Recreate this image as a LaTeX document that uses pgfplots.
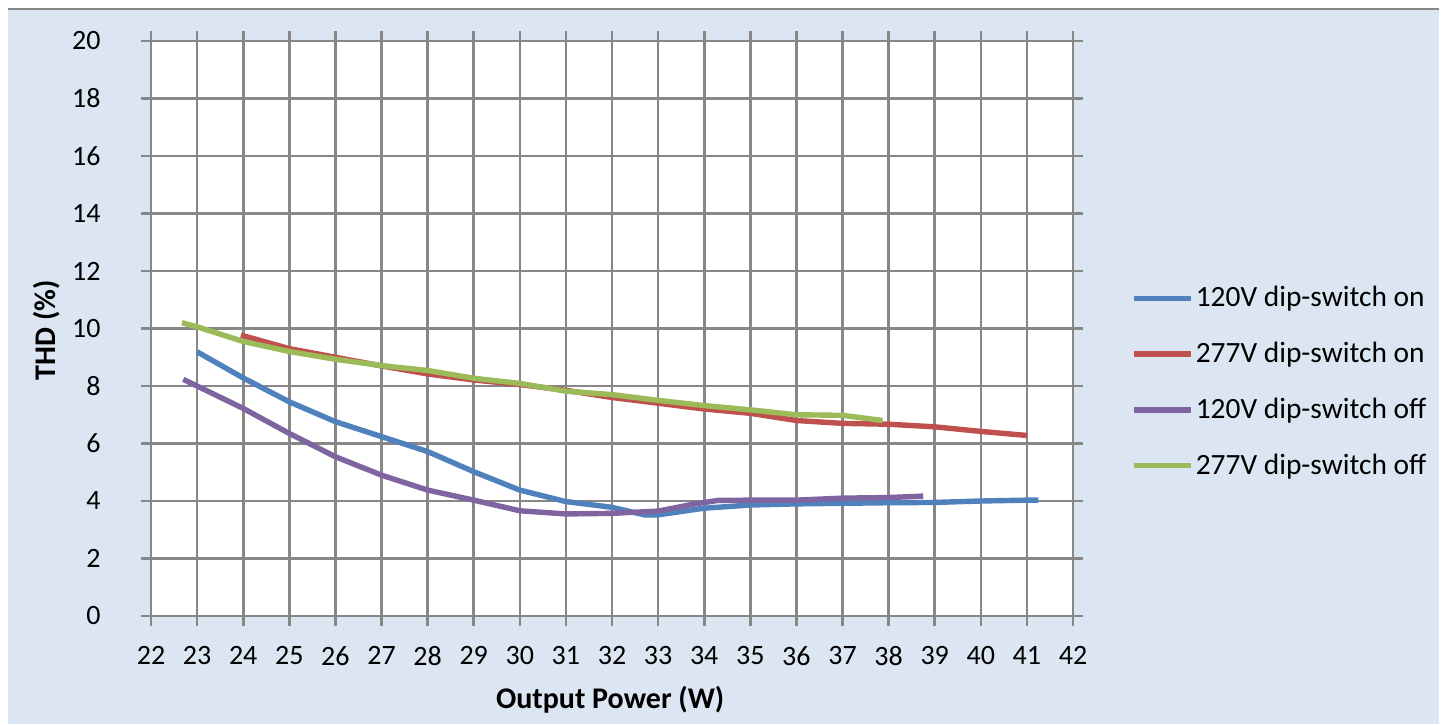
\documentclass[border=0pt]{standalone}
\usepackage{pgfplots}
\pgfplotsset{compat=1.18}
\usepackage{fontspec}
\setmainfont{Carlito}
\definecolor{bgc}{HTML}{DCE6F2}
\definecolor{gridc}{HTML}{878787}
\definecolor{c1}{HTML}{4F81BD}
\definecolor{c2}{HTML}{C0504D}
\definecolor{c3}{HTML}{8064A2}
\definecolor{c4}{HTML}{9BBB59}
\begin{document}
\begin{tikzpicture}
\fill[white] (0,0) rectangle (722.5pt,362pt);
\fill[bgc] (4pt,0) rectangle (719.5pt,357.5pt);
\draw[gridc,line width=1pt] (4pt,357.5pt) -- (719.5pt,357.5pt);
\begin{axis}[
  at={(75.5pt,54pt)}, anchor=south west,
  scale only axis, width=461pt, height=287.5pt,
  xmin=22, xmax=42, ymin=0, ymax=20,
  xtick={22,23,...,42}, ytick={0,2,...,20},
  grid=major,
  grid style={gridc, line width=1.3pt},
  axis line style={gridc, line width=1.3pt},
  tick style={gridc, line width=1.3pt},
  major tick length=5pt, tick align=outside,
  axis background/.style={fill=white},
  font=\fontsize{14}{16}\selectfont,
  /pgf/number format/assume math mode=true,
  yticklabel style={inner sep=0pt, xshift=-20pt},
  xticklabel style={inner sep=0pt, yshift=-10pt},
  xlabel={\textbf{Output Power (W)}},
  ylabel={\textbf{THD (\%)}},
  xlabel style={at={(axis description cs:0.498,0)}, anchor=center, yshift=-42pt, font=\fontsize{15}{17}\selectfont},
  ylabel style={at={(axis description cs:-0.1128,0.497)}, anchor=center, font=\fontsize{15}{17}\selectfont},
  every axis plot/.append style={line width=2.7pt, no markers},
  legend cell align=left,
  legend style={at={(axis description cs:1.0564,0.407)}, anchor=west, draw=none, fill=none,
    font=\fontsize{14.7}{16}\selectfont, row sep=14.2pt,
    nodes={inner sep=1pt}},
  legend image code/.code={\draw[#1] (0pt,0pt) -- (28.5pt,0pt);},
]
\addplot[c1] coordinates {(23.0,9.19) (24,8.28) (25,7.45) (26,6.76) (27,6.24) (28,5.72) (29,5.02) (30,4.38) (31,3.98) (32,3.78) (32.7,3.52) (33,3.52) (34,3.75) (35,3.86) (36,3.9) (37,3.92) (38,3.94) (39,3.95) (40,4.0) (41,4.03) (41.25,4.03)};
\addlegendentry{120V dip-switch on}
\addplot[c2] coordinates {(23.95,9.77) (25,9.3) (26,9.0) (27,8.7) (28,8.42) (29,8.21) (30,8.05) (31,7.85) (32,7.6) (33,7.4) (34,7.2) (35,7.05) (36,6.8) (37,6.7) (38,6.67) (39,6.58) (40,6.42) (41,6.28)};
\addlegendentry{277V dip-switch on}
\addplot[c3] coordinates {(22.7,8.23) (23,8.0) (24,7.22) (25,6.35) (26,5.54) (27,4.9) (28,4.38) (29,4.03) (30,3.66) (31,3.55) (32,3.57) (33,3.65) (33.8,3.9) (34.3,4.02) (35,4.03) (36,4.03) (37,4.1) (38,4.12) (38.75,4.17)};
\addlegendentry{120V dip-switch off}
\addplot[c4] coordinates {(22.67,10.2) (23,10.06) (24,9.55) (25,9.2) (26,8.93) (27,8.71) (28,8.54) (29,8.27) (30,8.09) (31,7.82) (32,7.7) (33,7.5) (34,7.32) (35,7.17) (36,7.0) (37,6.98) (37.87,6.8)};
\addlegendentry{277V dip-switch off}
\end{axis}
\end{tikzpicture}
\end{document}
